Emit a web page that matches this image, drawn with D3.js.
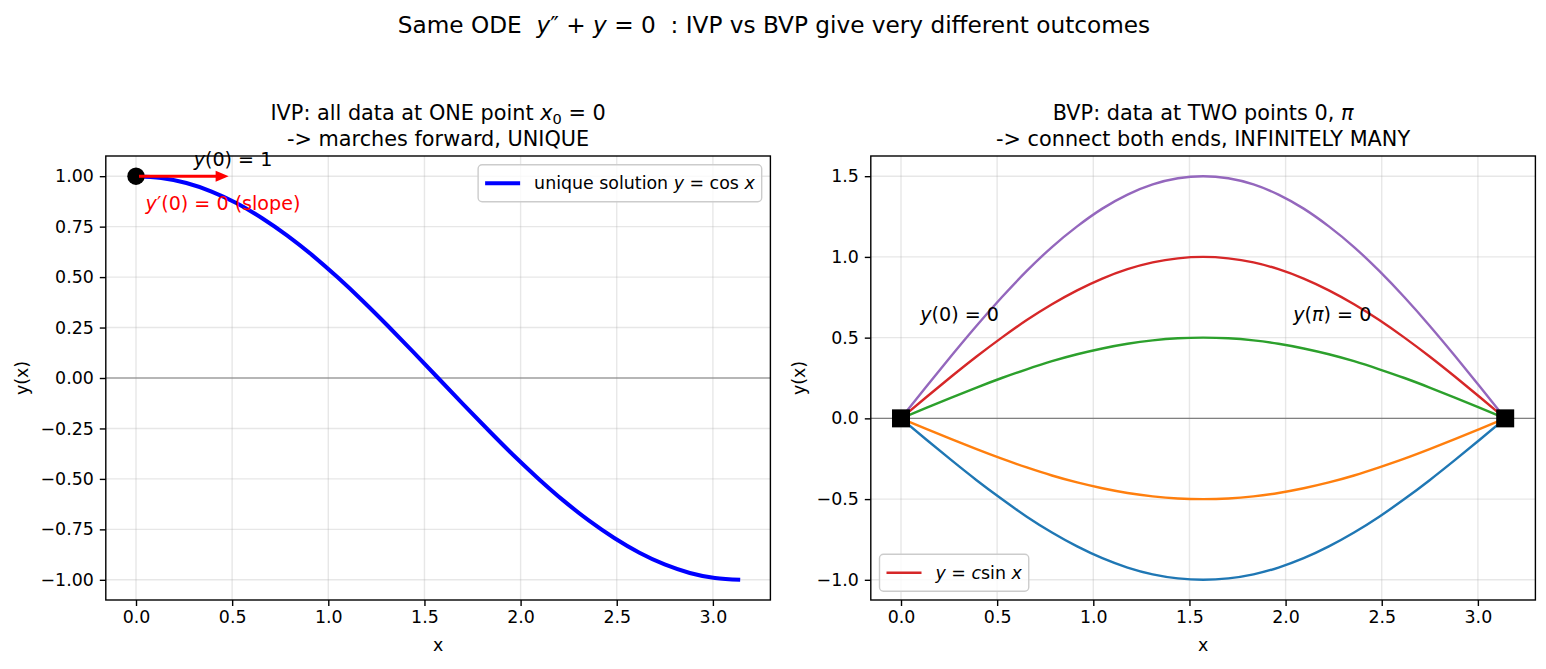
<!DOCTYPE html>
<html lang="en">
<head>
<meta charset="UTF-8">
<title>IVP vs BVP</title>
<script src="https://d3js.org/d3.v7.min.js"></script>
<style>
  body { margin: 0; padding: 0; background: #fff; }
  svg text { font-family: "DejaVu Sans", sans-serif; white-space: pre; fill: #000; }
</style>
</head>
<body>
<div id="chart"></div>
<script>
// x samples between 0 and pi (steps of pi/24)
const xs = [0, 0.131, 0.262, 0.393, 0.524, 0.654, 0.785, 0.916, 1.047, 1.178, 1.309, 1.440, 1.571,
            1.702, 1.833, 1.963, 2.094, 2.225, 2.356, 2.487, 2.618, 2.749, 2.880, 3.011, 3.142];

// left panel: the unique IVP solution
const ivpY = [1, 0.991, 0.966, 0.924, 0.866, 0.793, 0.707, 0.609, 0.5, 0.383, 0.259, 0.131, 0,
              -0.131, -0.259, -0.383, -0.5, -0.609, -0.707, -0.793, -0.866, -0.924, -0.966, -0.991, -1];

// right panel: family of BVP solutions (c = -1, -0.5, 0.5, 1, 1.5)
const bvpCm1  = [0, -0.131, -0.259, -0.383, -0.5, -0.609, -0.707, -0.793, -0.866, -0.924, -0.966, -0.991, -1,
                 -0.991, -0.966, -0.924, -0.866, -0.793, -0.707, -0.609, -0.5, -0.383, -0.259, -0.131, 0];
const bvpCm05 = [0, -0.065, -0.129, -0.191, -0.25, -0.304, -0.354, -0.397, -0.433, -0.462, -0.483, -0.496, -0.5,
                 -0.496, -0.483, -0.462, -0.433, -0.397, -0.354, -0.304, -0.25, -0.191, -0.129, -0.065, 0];
const bvpC05  = [0, 0.065, 0.129, 0.191, 0.25, 0.304, 0.354, 0.397, 0.433, 0.462, 0.483, 0.496, 0.5,
                 0.496, 0.483, 0.462, 0.433, 0.397, 0.354, 0.304, 0.25, 0.191, 0.129, 0.065, 0];
const bvpC1   = [0, 0.131, 0.259, 0.383, 0.5, 0.609, 0.707, 0.793, 0.866, 0.924, 0.966, 0.991, 1,
                 0.991, 0.966, 0.924, 0.866, 0.793, 0.707, 0.609, 0.5, 0.383, 0.259, 0.131, 0];
const bvpC15  = [0, 0.196, 0.388, 0.574, 0.75, 0.913, 1.061, 1.189, 1.299, 1.386, 1.449, 1.487, 1.5,
                 1.487, 1.449, 1.386, 1.299, 1.189, 1.061, 0.913, 0.75, 0.574, 0.388, 0.196, 0];

// boundary / initial points
const ivpPoint = [0, 1];
const bvpPoints = [[0, 0], [3.142, 0]];

// tick values
const xTicks = [0, 0.5, 1.0, 1.5, 2.0, 2.5, 3.0];
const ivpTicks = [-1.0, -0.75, -0.5, -0.25, 0, 0.25, 0.5, 0.75, 1.0];
const bvpTicks = [-1.0, -0.5, 0, 0.5, 1.0, 1.5];

const bvpSeries = [
  {y: bvpCm1,  color: "#1f77b4"},
  {y: bvpCm05, color: "#ff7f0e"},
  {y: bvpC05,  color: "#2ca02c"},
  {y: bvpC1,   color: "#d62728"},
  {y: bvpC15,  color: "#9467bd"}
];

// sizes
const width = 1546, height = 669;
const panelW = 664.6, plotTop = 156, plotBottom = 600;
const leftL = 105.8, leftR = 870.8;
const fs = 17.4;       // tick / label font
const titleFs = 20.8;
const annFs = 19.1;

const svg = d3.select("#chart").append("svg")
    .attr("width", width)
    .attr("height", height);

// write text made of plain / italic / subscript pieces
function rich(textSel, parts) {
  let shifted = false;
  parts.forEach(p => {
    const t = textSel.append("tspan").text(p.t);
    if (p.i) t.attr("font-style", "italic");
    if (p.sub) {
      t.attr("font-size", "70%").attr("dy", "0.25em");
      shifted = true;
    } else if (shifted) {
      t.attr("dy", "-0.175em");
      shifted = false;
    }
  });
  return textSel;
}

function padded(ext, frac) {
  const p = (ext[1] - ext[0]) * frac;
  return [ext[0] - p, ext[1] + p];
}

// build a panel: scales, grid, axes, labels
function panel(left, yValues, yTicks, yFmt, clipId, ylabelOffset) {
  const x = d3.scaleLinear()
    .domain(padded(d3.extent(xs), 0.05))
    .range([left, left + panelW]);
  const y = d3.scaleLinear()
    .domain(padded(d3.extent(yValues), 0.05))
    .range([plotBottom, plotTop]);

  const g = svg.append("g");

  svg.append("clipPath").attr("id", clipId)
    .append("rect")
      .attr("x", left).attr("y", plotTop)
      .attr("width", panelW).attr("height", plotBottom - plotTop);

  // grid
  g.selectAll(".gx").data(xTicks).join("line")
      .attr("x1", d => x(d)).attr("x2", d => x(d))
      .attr("y1", plotTop).attr("y2", plotBottom)
      .attr("stroke", "#b0b0b0").attr("stroke-opacity", 0.3).attr("stroke-width", 1.4);
  g.selectAll(".gy").data(yTicks).join("line")
      .attr("x1", left).attr("x2", left + panelW)
      .attr("y1", d => y(d)).attr("y2", d => y(d))
      .attr("stroke", "#b0b0b0").attr("stroke-opacity", 0.3).attr("stroke-width", 1.4);

  // zero line
  g.append("line")
      .attr("x1", left).attr("x2", left + panelW)
      .attr("y1", y(0)).attr("y2", y(0))
      .attr("stroke", "gray").attr("stroke-width", 1.2);

  // axes
  const xAxis = g.append("g")
      .attr("transform", `translate(0,${plotBottom})`)
      .call(d3.axisBottom(x).tickValues(xTicks).tickFormat(d3.format(".1f"))
        .tickSize(6).tickPadding(5));
  const yAxis = g.append("g")
      .attr("transform", `translate(${left},0)`)
      .call(d3.axisLeft(y).tickValues(yTicks).tickFormat(d3.format(yFmt))
        .tickSize(6).tickPadding(6));
  [xAxis, yAxis].forEach(a => {
    a.select(".domain").remove();
    a.selectAll("line").attr("stroke", "#000").attr("stroke-width", 1.4);
    a.selectAll("text").attr("font-size", fs).attr("font-family", "DejaVu Sans").attr("fill", "#000");
  });

  // axis labels
  g.append("text")
      .attr("x", left + panelW / 2).attr("y", 651)
      .attr("text-anchor", "middle").attr("font-size", fs)
      .text("x");
  g.append("text")
      .attr("transform", `translate(${left - ylabelOffset},${(plotTop + plotBottom) / 2}) rotate(-90)`)
      .attr("text-anchor", "middle").attr("font-size", fs)
      .text("y(x)");

  const plot = svg.append("g").attr("clip-path", `url(#${clipId})`);
  return {x, y, g, plot, left};
}

function frame(left) {
  svg.append("rect")
      .attr("x", left).attr("y", plotTop)
      .attr("width", panelW).attr("height", plotBottom - plotTop)
      .attr("fill", "none").attr("stroke", "#000").attr("stroke-width", 1.4);
}

function titles(cx, line1, line2) {
  rich(svg.append("text").attr("x", cx).attr("y", 120)
      .attr("text-anchor", "middle").attr("font-size", titleFs), line1);
  rich(svg.append("text").attr("x", cx).attr("y", 146)
      .attr("text-anchor", "middle").attr("font-size", titleFs), line2);
}

function legend(box, color, lw, parts, alignRight) {
  const lg = svg.append("g");
  const rect = lg.append("rect")
      .attr("rx", 4).attr("ry", 4)
      .attr("fill", "#fff").attr("fill-opacity", 0.8)
      .attr("stroke", "#cccccc").attr("stroke-width", 1.4);
  const txt = rich(lg.append("text").attr("font-size", fs), parts);
  const tw = txt.node().getComputedTextLength();
  const bw = 7 + 35 + 14 + tw + 7, bh = 37;
  const bx = alignRight ? box.x - bw : box.x;
  const by = box.y;
  rect.attr("x", bx).attr("y", by).attr("width", bw).attr("height", bh);
  lg.append("line")
      .attr("x1", bx + 7).attr("x2", bx + 42)
      .attr("y1", by + bh / 2).attr("y2", by + bh / 2)
      .attr("stroke", color).attr("stroke-width", lw);
  txt.attr("x", bx + 56).attr("y", by + bh / 2 + 6);
}

// ---------- suptitle ----------
rich(svg.append("text").attr("x", 774).attr("y", 33)
    .attr("text-anchor", "middle").attr("font-size", 23.2),
  [{t: "Same ODE  "}, {t: "y", i: 1}, {t: "″ + "}, {t: "y", i: 1},
   {t: " = 0  : IVP vs BVP give very different outcomes"}]);

// ---------- left panel: IVP ----------
const L = panel(leftL, ivpY, ivpTicks, ".2f", "clipL", 78);

const line = (p) => d3.line()
    .x((d, i) => p.x(xs[i]))
    .y(d => p.y(d))
    .curve(d3.curveNatural);

L.plot.append("path")
    .datum(ivpY)
    .attr("d", line(L))
    .attr("fill", "none").attr("stroke", "blue").attr("stroke-width", 4);

frame(leftL);

svg.append("circle")
    .attr("cx", L.x(ivpPoint[0])).attr("cy", L.y(ivpPoint[1]))
    .attr("r", 8.7).attr("fill", "#000");

// slope arrow
const arrowEnd = [0.5, 1];
const ax0 = L.x(ivpPoint[0]) + 3, ax1 = L.x(arrowEnd[0]) - 3.5, ay = L.y(arrowEnd[1]);
svg.append("line")
    .attr("x1", ax0).attr("x2", ax1 - 10).attr("y1", ay).attr("y2", ay)
    .attr("stroke", "red").attr("stroke-width", 3);
svg.append("path")
    .attr("d", `M${ax1},${ay} L${ax1 - 13},${ay - 5.5} L${ax1 - 13},${ay + 5.5} Z`)
    .attr("fill", "red");

rich(svg.append("text")
    .attr("x", L.x(0.3)).attr("y", L.y(1.05)).attr("font-size", annFs),
  [{t: "y", i: 1}, {t: "(0) = 1"}]);
rich(svg.append("text")
    .attr("x", L.x(0.05)).attr("y", L.y(0.83)).attr("font-size", annFs)
    .style("fill", "red"),
  [{t: "y", i: 1}, {t: "′(0) = 0 (slope)"}]);

titles(leftL + panelW / 2,
  [{t: "IVP: all data at ONE point "}, {t: "x", i: 1}, {t: "0", sub: 1}, {t: " = 0"}],
  [{t: "-> marches forward, UNIQUE"}]);

legend({x: leftL + panelW - 8.7, y: plotTop + 8.7}, "blue", 4,
  [{t: "unique solution "}, {t: "y", i: 1}, {t: " = cos "}, {t: "x", i: 1}], true);

// ---------- right panel: BVP ----------
const R = panel(leftR, bvpSeries.flatMap(s => s.y), bvpTicks, ".1f", "clipR", 66);

R.plot.selectAll(".bvp").data(bvpSeries).join("path")
    .attr("d", s => line(R)(s.y))
    .attr("fill", "none")
    .attr("stroke", s => s.color)
    .attr("stroke-width", 2.4);

frame(leftR);

svg.selectAll(".bc").data(bvpPoints).join("rect")
    .attr("x", d => R.x(d[0]) - 9).attr("y", d => R.y(d[1]) - 9)
    .attr("width", 18).attr("height", 18)
    .attr("fill", "#000");

rich(svg.append("text")
    .attr("x", R.x(0.1)).attr("y", R.y(0.6)).attr("font-size", annFs),
  [{t: "y", i: 1}, {t: "(0) = 0"}]);
rich(svg.append("text")
    .attr("x", R.x(2.04)).attr("y", R.y(0.6)).attr("font-size", annFs),
  [{t: "y", i: 1}, {t: "("}, {t: "π", i: 1}, {t: ") = 0"}]);

titles(leftR + panelW / 2,
  [{t: "BVP: data at TWO points 0, "}, {t: "π", i: 1}],
  [{t: "-> connect both ends, INFINITELY MANY"}]);

legend({x: leftR + 8.7, y: plotBottom - 8.7 - 37}, "#d62728", 2.4,
  [{t: "y", i: 1}, {t: " = "}, {t: "c", i: 1}, {t: "sin "}, {t: "x", i: 1}], false);
</script>
</body>
</html>
